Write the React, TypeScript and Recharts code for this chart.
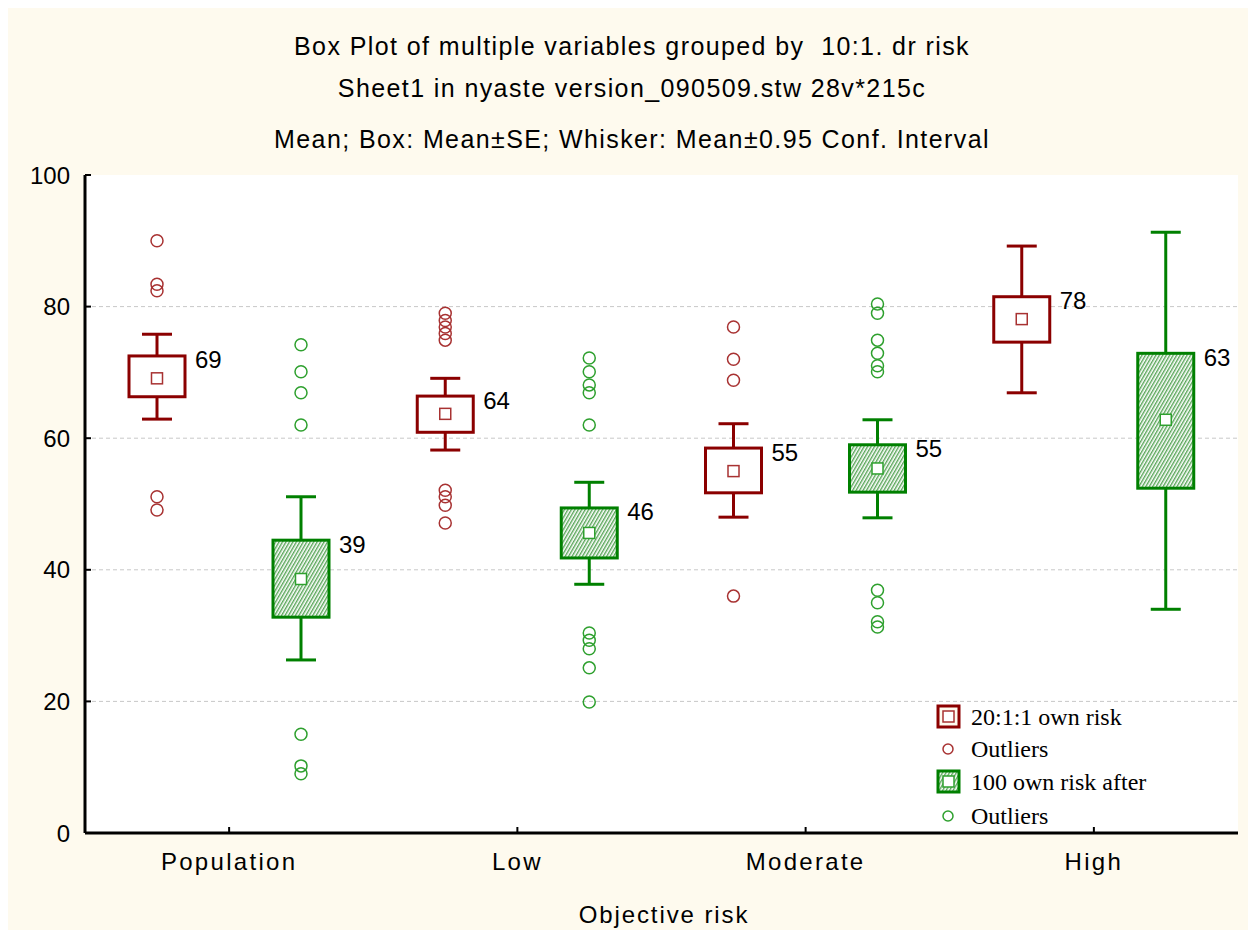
import { ComposedChart, Bar, XAxis, YAxis, CartesianGrid } from 'recharts';

const categories = ['Population', 'Low', 'Moderate', 'High'];

// 20:1:1 own risk
const ownMean = [69.1, 63.7, 55.0, 78.1];
const ownBoxLo = [66.3, 60.9, 51.7, 74.6];
const ownBoxHi = [72.5, 66.4, 58.5, 81.5];
const ownWhiskLo = [62.9, 58.2, 48.0, 66.9];
const ownWhiskHi = [75.8, 69.1, 62.2, 89.2];
const ownOutliers = [
  [90.0, 83.4, 82.4, 51.1, 49.1],
  [79.0, 77.9, 76.9, 75.9, 74.9, 52.1, 51.1, 49.8, 47.1],
  [76.9, 72.0, 68.8, 36.0],
  [],
];
const ownLabels = ['69', '64', '55', '78'];

// 100 own risk after
const afterMean = [38.6, 45.6, 55.4, 62.8];
const afterBoxLo = [32.8, 41.8, 51.8, 52.4];
const afterBoxHi = [44.5, 49.4, 59.0, 72.9];
const afterWhiskLo = [26.3, 37.8, 47.9, 34.0];
const afterWhiskHi = [51.1, 53.3, 62.8, 91.3];
const afterOutliers = [
  [74.2, 70.1, 66.9, 62.0, 15.0, 10.2, 9.0],
  [72.2, 70.1, 68.1, 66.9, 62.0, 30.4, 29.3, 28.0, 25.1, 19.9],
  [80.4, 79.0, 74.9, 72.9, 71.0, 70.1, 36.9, 35.0, 32.1, 31.3],
  [],
];
const afterLabels = ['39', '46', '55', '63'];

const yTicks = [0, 20, 40, 60, 80, 100];

const RED = '#8b0000';
const RED_LIGHT = '#a83232';
const GREEN = '#008000';
const GREEN_LIGHT = '#2ea02e';
const CREAM = '#fefaee';

const data = categories.map((cat, i) => ({
  cat,
  own: {
    mean: ownMean[i], boxLo: ownBoxLo[i], boxHi: ownBoxHi[i],
    wLo: ownWhiskLo[i], wHi: ownWhiskHi[i], outliers: ownOutliers[i], label: ownLabels[i],
  },
  ownRange: [ownWhiskLo[i], ownWhiskHi[i]],
  after: {
    mean: afterMean[i], boxLo: afterBoxLo[i], boxHi: afterBoxHi[i],
    wLo: afterWhiskLo[i], wHi: afterWhiskHi[i], outliers: afterOutliers[i], label: afterLabels[i],
  },
  afterRange: [afterWhiskLo[i], afterWhiskHi[i]],
}));

const BoxShape = (props: any) => {
  const { x, y, width, height, payload, series } = props;
  const s = payload[series];
  const top = Math.min(y, y + height);
  const h = Math.abs(height);
  const k = h / (s.wHi - s.wLo);
  const yOf = (v: number) => top + (s.wHi - v) * k;
  const cx = x + width / 2;
  const stroke = series === 'own' ? RED : GREEN;
  const light = series === 'own' ? RED_LIGHT : GREEN_LIGHT;
  const fill = series === 'own' ? '#ffffff' : 'url(#hatch)';
  const bTop = yOf(s.boxHi);
  const bBot = yOf(s.boxLo);
  const my = yOf(s.mean);
  return (
    <g>
      <line x1={cx} x2={cx} y1={yOf(s.wHi)} y2={bTop} stroke={stroke} strokeWidth={3} />
      <line x1={cx} x2={cx} y1={bBot} y2={yOf(s.wLo)} stroke={stroke} strokeWidth={3} />
      <line x1={cx - 15} x2={cx + 15} y1={yOf(s.wHi)} y2={yOf(s.wHi)} stroke={stroke} strokeWidth={3} />
      <line x1={cx - 15} x2={cx + 15} y1={yOf(s.wLo)} y2={yOf(s.wLo)} stroke={stroke} strokeWidth={3} />
      <rect x={x} y={bTop} width={width} height={bBot - bTop} fill={fill} stroke={stroke} strokeWidth={3} />
      <rect x={cx - 5.5} y={my - 5.5} width={11} height={11} fill="#ffffff" stroke={light} strokeWidth={1.5} />
      {s.outliers.map((v: number, j: number) => (
        <circle key={j} cx={cx} cy={yOf(v)} r={6} fill="none" stroke={light} strokeWidth={1.5} />
      ))}
      <text x={x + width + 10} y={bTop + 4} dominantBaseline="central" fontSize={24}
        fontFamily="Liberation Sans, Arial, sans-serif" fill="#000">{s.label}</text>
    </g>
  );
};

const XTick = (props: any) => {
  const { x, y, payload } = props;
  return (
    <g>
      <line x1={x} x2={x} y1={y} y2={y - 6} stroke="#000" strokeWidth={2} />
      <text x={x} y={y + 28} textAnchor="middle" dominantBaseline="central" fontSize={24}
        letterSpacing={2.3} fontFamily="Liberation Sans, Arial, sans-serif" fill="#000">{payload.value}</text>
    </g>
  );
};

const YTick = (props: any) => {
  const { x, y, payload } = props;
  return (
    <g>
      <line x1={x} x2={x + 6} y1={y} y2={y} stroke="#000" strokeWidth={2} />
      <text x={x - 15} y={y} textAnchor="end" dominantBaseline="central" fontSize={24}
        fontFamily="Liberation Sans, Arial, sans-serif" fill="#000">{payload.value}</text>
    </g>
  );
};

export default function App() {
  const sans = 'Liberation Sans, Arial, sans-serif';
  const serif = 'Liberation Serif, Times New Roman, serif';
  return (
    <div style={{ position: 'relative', width: 1248, height: 922, background: CREAM }}>
      <svg width={0} height={0} style={{ position: 'absolute' }}>
        <defs>
          <pattern id="hatch" patternUnits="userSpaceOnUse" width={3} height={3} patternTransform="rotate(30)">
            <rect width={3} height={3} fill="#ffffff" />
            <line x1={0.75} y1={0} x2={0.75} y2={3} stroke="#3b963b" strokeWidth={1.2} />
          </pattern>
        </defs>
      </svg>
      <ComposedChart
        width={1248}
        height={922}
        data={data}
        margin={{ top: 167, right: 18, bottom: 0, left: 0 }}
        barSize={56}
        barGap={88}
      >
        <CartesianGrid fill="#ffffff" stroke="#c8c8c8" strokeDasharray="4 3" vertical={false}
          horizontalValues={[20, 40, 60, 80]} />
        <XAxis dataKey="cat" height={97} tickSize={0} tickMargin={0} tickLine={false}
          axisLine={{ stroke: '#000', strokeWidth: 3 }} tick={<XTick />} interval={0} />
        <YAxis type="number" domain={[0, 100]} ticks={yTicks} width={77} tickSize={0} tickMargin={0}
          tickLine={false} axisLine={{ stroke: '#000', strokeWidth: 3 }} tick={<YTick />} />
        <Bar dataKey="ownRange" isAnimationActive={false}
          shape={(p: any) => <BoxShape {...p} series="own" />} />
        <Bar dataKey="afterRange" isAnimationActive={false}
          shape={(p: any) => <BoxShape {...p} series="after" />} />
      </ComposedChart>
      <svg width={1248} height={922} style={{ position: 'absolute', left: 0, top: 0, pointerEvents: 'none' }}>
        <g fontFamily={sans} fontSize={25} fill="#000" textAnchor="middle" letterSpacing={1.4}>
          <text x={624} y={38} dominantBaseline="central" xmlSpace="preserve" style={{ whiteSpace: 'pre' }}>
            {'Box Plot of multiple variables grouped by  10:1. dr risk'}
          </text>
          <text x={624} y={80} dominantBaseline="central">Sheet1 in nyaste version_090509.stw 28v*215c</text>
          <text x={624} y={131} dominantBaseline="central">Mean; Box: Mean±SE; Whisker: Mean±0.95 Conf. Interval</text>
          <text x={656} y={906} dominantBaseline="central" fontSize={24} letterSpacing={1.9}>Objective risk</text>
        </g>
        <g fontFamily={serif} fontSize={24} fill="#000">
          <rect x={930} y={698} width={21} height={21} fill={CREAM} stroke={RED} strokeWidth={3} />
          <rect x={935} y={703} width={11} height={11} fill="#fff" stroke={RED_LIGHT} strokeWidth={1.5} />
          <text x={963} y={709} dominantBaseline="central">20:1:1 own risk</text>
          <circle cx={940} cy={741} r={5} fill="none" stroke={RED_LIGHT} strokeWidth={1.5} />
          <text x={963} y={741} dominantBaseline="central">Outliers</text>
          <rect x={930} y={763} width={21} height={21} fill="url(#hatch)" stroke={GREEN} strokeWidth={3} />
          <rect x={935} y={768} width={11} height={11} fill="#fff" stroke={GREEN_LIGHT} strokeWidth={1.5} />
          <text x={963} y={774} dominantBaseline="central">100 own risk after</text>
          <circle cx={940} cy={808} r={5} fill="none" stroke={GREEN_LIGHT} strokeWidth={1.5} />
          <text x={963} y={808} dominantBaseline="central">Outliers</text>
        </g>
      </svg>
    </div>
  );
}
